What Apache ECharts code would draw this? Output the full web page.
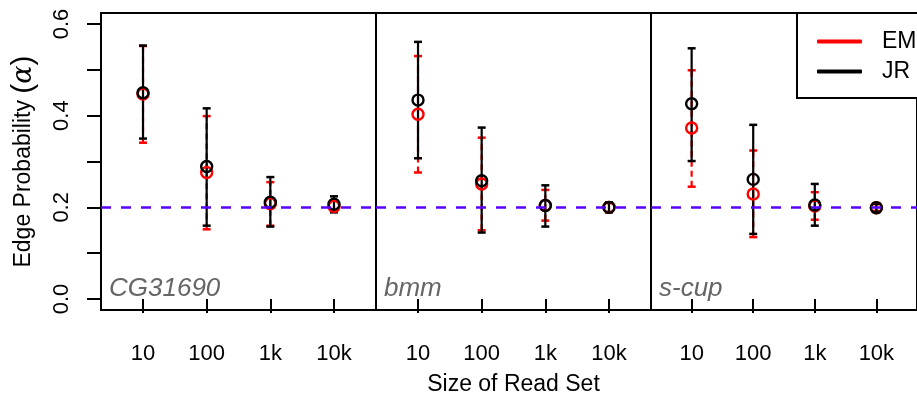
<!DOCTYPE html>
<html>
<head>
<meta charset="utf-8">
<script src="https://cdn.jsdelivr.net/npm/echarts@6/dist/echarts.min.js"></script>
<style>
  html, body { margin: 0; padding: 0; background: #fff; }
  #chart { width: 917px; height: 401px; }
</style>
</head>
<body>
<div id="chart"></div>
<script>
// ---- data ----
const sizes = ['10', '100', '1k', '10k'];
const panels = ['CG31690', 'bmm', 's-cup'];
const trueAlpha = 0.2;
const yTicks = [0, 0.1, 0.2, 0.3, 0.4, 0.5, 0.6];
const yLabels = [0, 0.2, 0.4, 0.6];

const emMean = [[0.447, 0.276, 0.208, 0.202], [0.403, 0.251, 0.204, 0.200], [0.373, 0.229, 0.203, 0.199]];
const emLow  = [[0.341, 0.152, 0.160, 0.191], [0.276, 0.150, 0.171, 0.190], [0.245, 0.135, 0.173, 0.192]];
const emHigh = [[0.552, 0.399, 0.255, 0.215], [0.530, 0.352, 0.238, 0.209], [0.499, 0.324, 0.233, 0.207]];
const jrMean = [[0.450, 0.289, 0.211, 0.207], [0.434, 0.258, 0.204, 0.200], [0.426, 0.261, 0.205, 0.199]];
const jrLow  = [[0.350, 0.160, 0.158, 0.189], [0.307, 0.145, 0.158, 0.189], [0.301, 0.142, 0.160, 0.190]];
const jrHigh = [[0.553, 0.416, 0.266, 0.224], [0.561, 0.374, 0.248, 0.211], [0.547, 0.380, 0.251, 0.208]];

// ---- layout ----
const FONT = 'Liberation Sans, Arial, Helvetica, sans-serif';
const PANEL_W = 275, LEFT0 = 101, TOP = 13, HEIGHT = 297;
const EM_COLOR = '#ff0000', JR_COLOR = '#000000';

const grids = [], xAxes = [], yAxes = [], series = [], titles = [];

function errorBars(p, name, lows, highs, color, dashed) {
  return {
    name: name, type: 'custom', xAxisIndex: p, yAxisIndex: p, silent: true,
    data: lows.map((lo, i) => [i + 1, lo, highs[i]]),
    renderItem: function (params, api) {
      const x = api.value(0);
      const a = api.coord([x, api.value(1)]);
      const b = api.coord([x, api.value(2)]);
      const hw = 4;
      const capStyle = { stroke: color, lineWidth: 2.5 };
      return {
        type: 'group',
        children: [
          { type: 'line', shape: { x1: a[0], y1: a[1], x2: b[0], y2: b[1] },
            style: { stroke: color, lineWidth: 2.2, lineDash: dashed ? [6, 4] : null } },
          { type: 'line', shape: { x1: a[0] - hw, y1: a[1], x2: a[0] + hw, y2: a[1] }, style: capStyle },
          { type: 'line', shape: { x1: b[0] - hw, y1: b[1], x2: b[0] + hw, y2: b[1] }, style: capStyle }
        ]
      };
    }
  };
}

function points(p, name, means, color) {
  return {
    name: name, type: 'scatter', xAxisIndex: p, yAxisIndex: p, silent: true,
    symbol: 'circle', symbolSize: 11,
    itemStyle: { color: 'rgba(0,0,0,0)', borderColor: color, borderWidth: 2.4, opacity: 1 },
    data: means.map((m, i) => [i + 1, m])
  };
}

panels.forEach((name, p) => {
  grids.push({
    left: LEFT0 + PANEL_W * p, top: TOP, width: PANEL_W, height: HEIGHT,
    show: true, borderColor: '#000', borderWidth: 2, backgroundColor: 'transparent',
    containLabel: false
  });
  xAxes.push({
    type: 'value', gridIndex: p, min: 0.34, max: 4.66,
    splitLine: { show: false },
    axisLine: { show: false },
    axisTick: { show: true, customValues: [1, 2, 3, 4], length: 14, inside: false,
      lineStyle: { color: '#000', width: 2 } },
    axisLabel: { show: true, customValues: [1, 2, 3, 4], margin: 33,
      formatter: v => sizes[Math.round(v) - 1],
      fontSize: 22, color: '#000', fontFamily: FONT },
    name: p === 1 ? 'Size of Read Set' : '',
    nameLocation: 'middle', nameGap: 63,
    nameTextStyle: { fontSize: 23, color: '#000', fontFamily: FONT }
  });
  yAxes.push({
    type: 'value', gridIndex: p, min: -0.024, max: 0.624,
    splitLine: { show: false },
    axisLine: { show: false },
    axisTick: { show: p === 0, customValues: yTicks, length: 14, inside: false,
      lineStyle: { color: '#000', width: 2 } },
    axisLabel: { show: p === 0, customValues: yLabels, rotate: 90, margin: 28,
      formatter: v => v.toFixed(1), fontSize: 22, color: '#000', fontFamily: FONT },
    name: p === 0 ? 'Edge Probability {p|(}{a|α}{p|)}' : '',
    nameLocation: 'middle', nameGap: 62, nameRotate: 90,
    nameTextStyle: { fontSize: 23, color: '#000', fontFamily: FONT,
      rich: {
        p: { fontSize: 30, fontFamily: FONT, color: '#000' },
        a: { fontSize: 27, fontStyle: 'italic', fontFamily: 'DejaVu Serif, serif', color: '#000' }
      } }
  });
  titles.push({
    text: name, left: LEFT0 + 8 + PANEL_W * p, top: 276, padding: 0,
    textStyle: { fontSize: 26, fontStyle: 'italic', fontWeight: 'normal', color: '#666', fontFamily: FONT }
  });

  const em = errorBars(p, 'EM', emLow[p], emHigh[p], EM_COLOR, true);
  const jr = errorBars(p, 'JR', jrLow[p], jrHigh[p], JR_COLOR, false);
  jr.markLine = {
    silent: true, symbol: ['none', 'none'], label: { show: false },
    lineStyle: { color: '#5a00ff', width: 2.5, type: [10, 10] },
    data: [{ yAxis: trueAlpha }]
  };
  series.push(em, jr);
  series.push(points(p, 'EM', emMean[p], EM_COLOR));
  series.push(points(p, 'JR', jrMean[p], JR_COLOR));
});

const chart = echarts.init(document.getElementById('chart'), null, { renderer: 'canvas' });
chart.setOption({
  animation: false,
  backgroundColor: '#fff',
  textStyle: { fontFamily: FONT },
  title: titles,
  grid: grids,
  xAxis: xAxes,
  yAxis: yAxes,
  legend: {
    left: 797, top: 13, orient: 'vertical',
    padding: [17, 60, 15, 20], itemGap: 7,
    itemWidth: 45, itemHeight: 4,
    borderColor: '#000', borderWidth: 2, borderRadius: 0, backgroundColor: '#fff',
    selectedMode: false,
    textStyle: { fontSize: 23, color: '#000', fontFamily: FONT, lineHeight: 21, padding: [0, 0, 0, 15] },
    data: [
      { name: 'EM', icon: 'roundRect', itemStyle: { color: EM_COLOR, borderWidth: 0 } },
      { name: 'JR', icon: 'roundRect', itemStyle: { color: JR_COLOR, borderWidth: 0 } }
    ]
  },
  series: series
});
</script>
</body>
</html>
